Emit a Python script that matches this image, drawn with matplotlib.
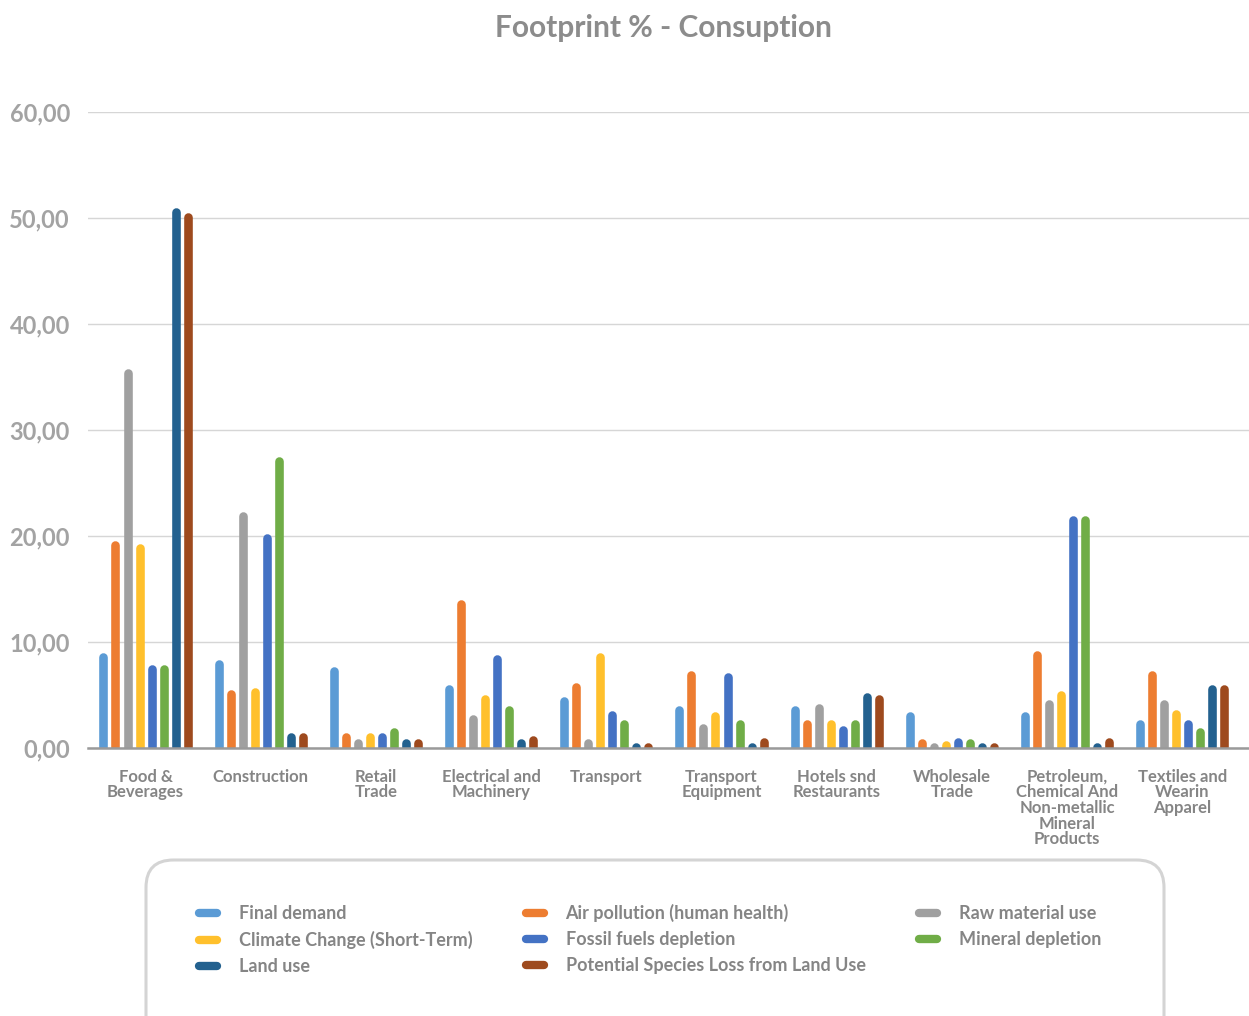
import matplotlib
matplotlib.use("Agg")
import matplotlib.pyplot as plt
from matplotlib.lines import Line2D
from matplotlib.patches import FancyBboxPatch
import numpy as np

plt.rcParams['font.family'] = ['Lato', 'DejaVu Sans']

categories = ["Food &\nBeverages", "Construction", "Retail\nTrade", "Electrical and\nMachinery",
              "Transport", "Transport\nEquipment", "Hotels snd\nRestaurants", "Wholesale\nTrade",
              "Petroleum,\nChemical And\nNon-metallic\nMineral\nProducts", "Textiles and\nWearin\nApparel"]

series_names = ["Final demand", "Air pollution (human health)", "Raw material use",
                "Climate Change (Short-Term)", "Fossil fuels depletion", "Mineral depletion",
                "Land use", "Potential Species Loss from Land Use"]

final_demand   = [9.0, 8.3, 7.7, 6.0, 4.8, 4.0, 4.0, 3.4, 3.4, 2.7]
air_pollution  = [19.6, 5.5, 1.4, 14.0, 6.2, 7.3, 2.7, 0.85, 9.2, 7.3]
raw_material   = [35.8, 22.3, 0.85, 3.1, 0.85, 2.3, 4.2, 0.4, 4.6, 4.6]
climate_change = [19.3, 5.7, 1.4, 5.0, 9.0, 3.4, 2.7, 0.65, 5.4, 3.6]
fossil_fuels   = [7.9, 20.2, 1.4, 8.8, 3.5, 7.1, 2.1, 1.0, 21.9, 2.7]
mineral        = [7.9, 27.5, 1.9, 4.0, 2.7, 2.7, 2.7, 0.85, 21.9, 1.9]
land_use       = [51.0, 1.4, 0.85, 0.85, 0.4, 0.4, 5.2, 0.4, 0.4, 6.0]
species_loss   = [50.5, 1.4, 0.85, 1.2, 0.4, 1.0, 5.0, 0.4, 1.0, 6.0]

series_values = [final_demand, air_pollution, raw_material, climate_change,
                 fossil_fuels, mineral, land_use, species_loss]
colors = ["#5B9BD5", "#ED7D31", "#A0A0A0", "#FFC02C", "#4472C4", "#70AD47", "#23618F", "#9E4A1E"]

y_ticks = [0, 10, 20, 30, 40, 50, 60]
y_tick_labels = ["0,00", "10,00", "20,00", "30,00", "40,00", "50,00", "60,00"]

W, H = 1249, 1016
fig = plt.figure(figsize=(W / 100, H / 100), dpi=100)
ax_h_px = 748 - 112
ax = fig.add_axes([88 / W, (H - 748) / H, (W - 88) / W, ax_h_px / H])

n_cat = len(categories)
n_ser = len(series_values)
x = np.arange(n_cat)
step = 0.1045
offsets = (np.arange(n_ser) - (n_ser - 1) / 2) * step

ymax = 60
bar_lw = 6.2
# the round cap sticks out half a line width; end the line early so the cap tip sits at the value
cap_data = (bar_lw / 2 * 100 / 72) / ax_h_px * ymax

for i, (vals, col) in enumerate(zip(series_values, colors)):
    tops = np.maximum(np.asarray(vals) - cap_data, 0.05)
    ax.vlines(x + offsets[i], 0, tops, colors=col, linewidth=bar_lw, capstyle='round', zorder=3)

ax.set_xlim(-0.5, n_cat - 0.5 + 0.08)
ax.set_ylim(0, ymax)
ax.set_yticks(y_ticks)
ax.set_yticklabels(y_tick_labels, fontsize=17, fontweight='bold', color='#A3A3A3')
ax.set_xticks(x)
ax.set_xticklabels(categories, fontsize=12, fontweight='bold', color='#858585', linespacing=0.97, va='top')
ax.tick_params(axis='both', length=0)
ax.tick_params(axis='y', pad=13)
ax.tick_params(axis='x', pad=15)
ax.grid(axis='y', color='#D6D6D6', linewidth=1.0, zorder=0)
ax.set_axisbelow(True)
for s in ['top', 'right', 'left']:
    ax.spines[s].set_visible(False)
ax.spines['bottom'].set_color('#9A9A9A')
ax.spines['bottom'].set_linewidth(1.8)
ax.spines['bottom'].set_zorder(4)

fig.text(663 / W, 1 - 28 / H, "Footprint % - Consuption", ha='center', va='center',
         fontsize=21.5, fontweight='bold', color='#8C8C8C')

# rounded legend box running off the bottom edge
frame = FancyBboxPatch((146 / W, -40 / H), 1018 / W, (1016 - 860 + 40) / H,
                       boxstyle="round,pad=0,rounding_size=0.022", transform=fig.transFigure,
                       facecolor='white', edgecolor='#D4D4D4', linewidth=2.2, mutation_aspect=W / H)
fig.patches.append(frame)

order = [0, 3, 6, 1, 4, 7, 2, 5]
handles = [Line2D([0], [0], color=colors[k], linewidth=6, solid_capstyle='round') for k in order]
labels = [series_names[k] for k in order]
leg = fig.legend(handles, labels, ncol=3, loc='upper left', bbox_to_anchor=(192 / W, 1 - 897 / H),
                 frameon=False, fontsize=13, handlelength=1.0, handletextpad=1.2,
                 columnspacing=2.95, labelspacing=0.5, borderaxespad=0)
for t in leg.get_texts():
    t.set_color('#858585')
    t.set_fontweight('bold')

fig.savefig("out.png", dpi=100)
